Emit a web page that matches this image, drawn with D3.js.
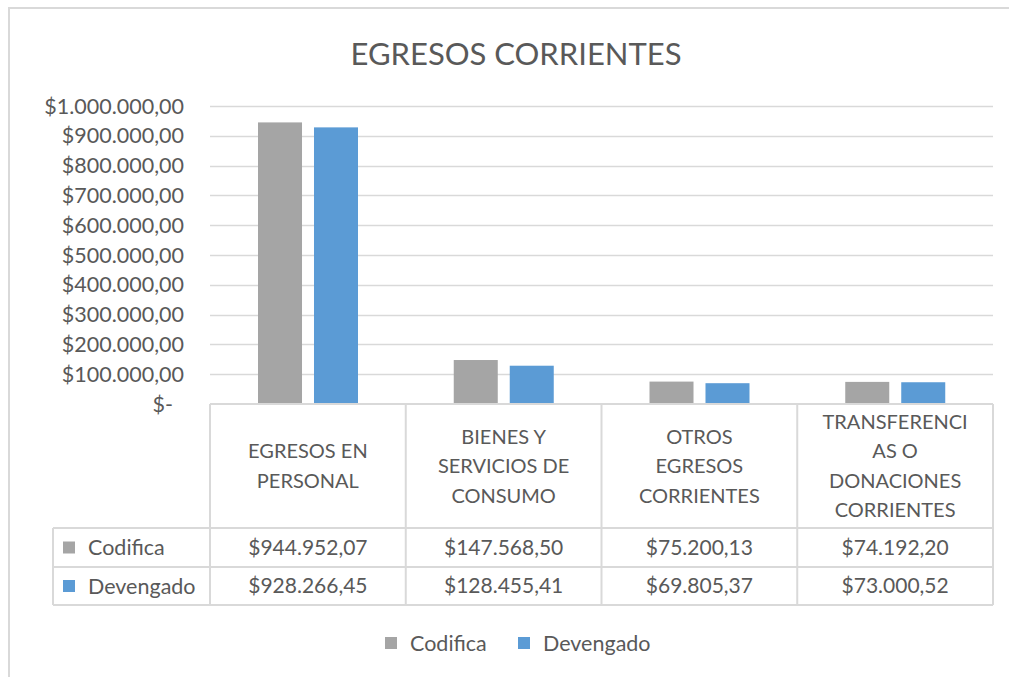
<!DOCTYPE html>
<html>
<head>
<meta charset="utf-8">
<script src="https://cdn.jsdelivr.net/npm/d3@7"></script>
<style>
  body { margin: 0; background: #fff; }
  text { font-family: Lato, "Open Sans", sans-serif; fill: #595959; }
</style>
</head>
<body>
<div id="chart"></div>
<script>
// data
var categories = [
  ["EGRESOS EN", "PERSONAL"],
  ["BIENES Y", "SERVICIOS DE", "CONSUMO"],
  ["OTROS", "EGRESOS", "CORRIENTES"],
  ["TRANSFERENCI", "AS O", "DONACIONES", "CORRIENTES"]
];
var seriesNames = ["Codifica", "Devengado"];
var codifica = [944952.07, 147568.50, 75200.13, 74192.20];
var devengado = [928266.45, 128455.41, 69805.37, 73000.52];
var yTicks = [0, 100000, 200000, 300000, 400000, 500000, 600000, 700000, 800000, 900000, 1000000];
var colors = ["#A5A5A5", "#5B9BD5"];

var width = 1009, height = 677;
var svg = d3.select("#chart").append("svg")
  .attr("width", width).attr("height", height);

var locale = d3.formatLocale({decimal: ",", thousands: ".", grouping: [3], currency: ["$", ""]});
var money = locale.format("$,.2f");

// outer frame
svg.append("rect")
  .attr("x", 9).attr("y", 8).attr("width", 1020).attr("height", 700)
  .attr("fill", "none").attr("stroke", "#D9D9D9").attr("stroke-width", 2);

svg.append("text")
  .attr("x", 516).attr("y", 54)
  .attr("dy", "0.35em")
  .attr("text-anchor", "middle")
  .style("font-size", "31px")
  .text("EGRESOS CORRIENTES");

var left = 210, right = 993;
var y = d3.scaleLinear().domain([0, 1000000]).range([404, 106]);
var x = d3.scaleBand().domain(d3.range(categories.length)).range([left, right]);
var xs = d3.scaleBand().domain(seriesNames).range([48, 148]).paddingInner(0.214);

// gridlines
svg.append("g").selectAll("line").data(yTicks.slice(1)).join("line")
  .attr("x1", left).attr("x2", right)
  .attr("y1", function (d) { return Math.round(y(d)) + 0.5; })
  .attr("y2", function (d) { return Math.round(y(d)) + 0.5; })
  .attr("stroke", "#D9D9D9").attr("stroke-width", 1.5);

svg.append("g").selectAll("text").data(yTicks).join("text")
  .attr("x", function (d) { return d === 0 ? 173 : 184; })
  .attr("y", function (d) { return y(d); })
  .attr("dy", "0.35em")
  .attr("text-anchor", "end")
  .style("font-size", "21.5px")
  .text(function (d) { return d === 0 ? "$-" : money(d); });

// bars
var series = [codifica, devengado];
series.forEach(function (vals, si) {
  svg.append("g").selectAll("rect").data(vals).join("rect")
    .attr("x", function (d, i) { return x(i) + xs(seriesNames[si]); })
    .attr("width", xs.bandwidth())
    .attr("y", function (d) { return y(d); })
    .attr("height", function (d) { return y(0) - y(d); })
    .attr("fill", colors[si]);
});

// data table
var tableTop = 404, headBottom = 528, row1 = 567, row2 = 605, tableLeft = 53;
var lineColor = "#D9D9D9";
var tbl = svg.append("g").attr("stroke", lineColor).attr("stroke-width", 2);
tbl.append("line").attr("x1", left).attr("x2", right).attr("y1", tableTop).attr("y2", tableTop);
[headBottom, row1, row2].forEach(function (yy) {
  tbl.append("line").attr("x1", tableLeft).attr("x2", right).attr("y1", yy).attr("y2", yy);
});
d3.range(categories.length + 1).forEach(function (i) {
  var xx = left + i * x.bandwidth();
  tbl.append("line").attr("x1", xx).attr("x2", xx).attr("y1", tableTop).attr("y2", row2);
});
tbl.append("line").attr("x1", tableLeft).attr("x2", tableLeft).attr("y1", headBottom).attr("y2", row2);

// category labels
var lineH = 29.5;
categories.forEach(function (lines, i) {
  var cx = x(i) + x.bandwidth() / 2;
  var cy = (tableTop + headBottom) / 2 - (lines.length - 1) * lineH / 2;
  lines.forEach(function (t, j) {
    svg.append("text")
      .attr("x", cx).attr("y", cy + j * lineH)
      .attr("dy", "0.35em").attr("text-anchor", "middle")
      .style("font-size", "20px")
      .text(t);
  });
});

// value rows
[[codifica, headBottom, row1], [devengado, row1, row2]].forEach(function (r, si) {
  var cy = (r[1] + r[2]) / 2;
  svg.append("g").selectAll("text").data(r[0]).join("text")
    .attr("x", function (d, i) { return x(i) + x.bandwidth() / 2; })
    .attr("y", cy).attr("dy", "0.35em")
    .attr("text-anchor", "middle")
    .style("font-size", "21px")
    .text(function (d) { return money(d); });
  svg.append("rect")
    .attr("x", 63).attr("y", cy - 6).attr("width", 12).attr("height", 12)
    .attr("fill", colors[si]);
  svg.append("text")
    .attr("x", 88).attr("y", cy).attr("dy", "0.35em")
    .style("font-size", "21.5px")
    .text(seriesNames[si]);
});

// legend
var legendX = [385, 518];
seriesNames.forEach(function (name, i) {
  svg.append("rect")
    .attr("x", legendX[i]).attr("y", 637).attr("width", 12).attr("height", 12)
    .attr("fill", colors[i]);
  svg.append("text")
    .attr("x", legendX[i] + 25).attr("y", 643).attr("dy", "0.35em")
    .style("font-size", "21.5px")
    .text(name);
});
</script>
</body>
</html>
